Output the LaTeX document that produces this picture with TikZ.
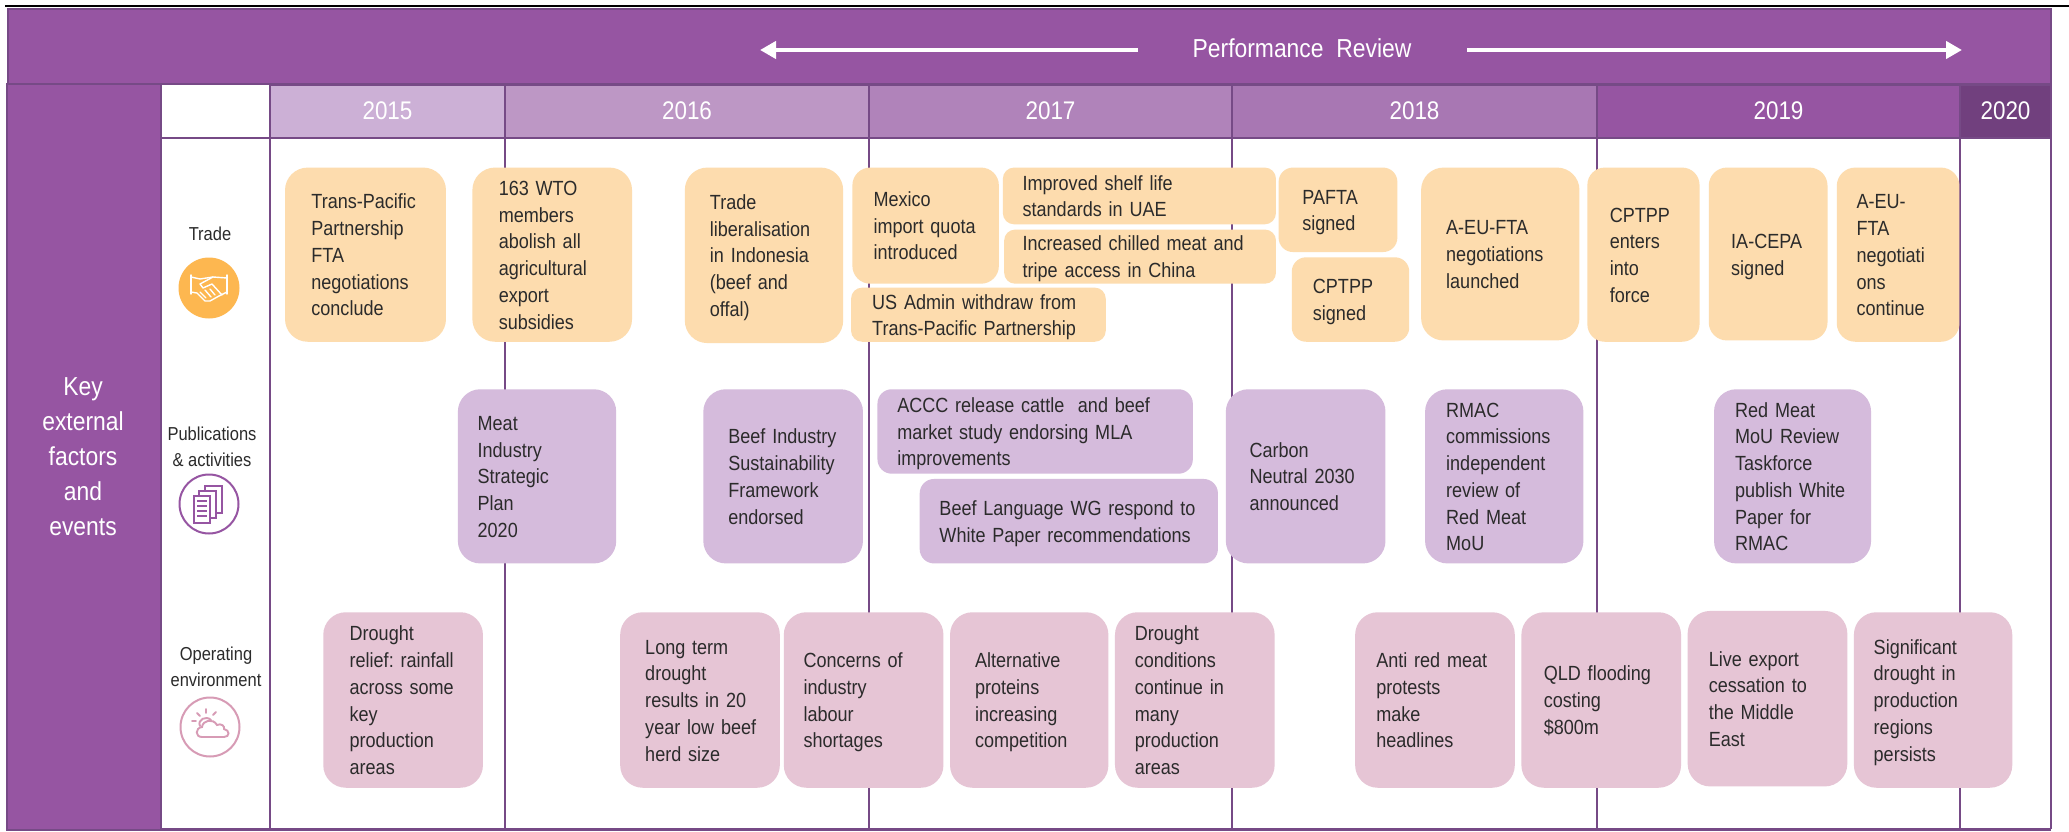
\documentclass[tikz,border=0pt]{standalone}
\usepackage{fontspec}
\setmainfont[FakeStretch=0.88]{Liberation Sans}
\usetikzlibrary{arrows.meta}
\definecolor{ln}{HTML}{764A86}
\definecolor{ban}{HTML}{9655A2}
\definecolor{yA}{HTML}{CCB0D6}
\definecolor{yB}{HTML}{BD97C5}
\definecolor{yC}{HTML}{B083BA}
\definecolor{yD}{HTML}{A877B3}
\definecolor{yE}{HTML}{9655A2}
\definecolor{yF}{HTML}{71407E}
\definecolor{ora}{HTML}{FDDCAE}
\definecolor{pur}{HTML}{D5BBDC}
\definecolor{pin}{HTML}{E6C5D5}
\definecolor{txt}{HTML}{2B2B2B}
\definecolor{icO}{HTML}{FDB750}
\definecolor{icP}{HTML}{9655A2}
\definecolor{icK}{HTML}{D79BB5}
\tikzset{
  x=1pt,y=-1pt,
  grid/.style={draw=ln,line width=2.4pt},
  yearbox/.style={draw=ln,line width=2pt,text=white,font=\fontsize{25.5}{28}\selectfont,inner sep=0pt},
  ev/.style={inner sep=0pt,text=txt,anchor=center,font=\fontsize{20.5}{26.7}\selectfont},
  rowlabel/.style={text=txt,align=center,font=\fontsize{18.75}{25.6}\selectfont,inner sep=0pt},
  wa/.style={draw=white,line width=4pt,-{Triangle[length=16pt,width=17pt]}},
}
% #1 name, #2 fill, #3 x0 #4 y0 #5 x1 #6 y1 (reference shrunk coords) #7 text left x, #8 text
\newcommand{\evb}[8]{%
  \pgfmathsetmacro{\xa}{#3*1.3195}\pgfmathsetmacro{\xb}{#5*1.3195}%
  \pgfmathsetmacro{\ya}{#4*1.3195}\pgfmathsetmacro{\yb}{#6*1.3195}%
  \pgfmathsetmacro{\tx}{#7*1.3195}%
  \pgfmathsetmacro{\cx}{(\xa+\xb)/2}\pgfmathsetmacro{\cy}{(\ya+\yb)/2}%
  \pgfmathsetmacro{\bw}{\xb-\xa}\pgfmathsetmacro{\bh}{\yb-\ya}%
  \pgfmathsetmacro{\pad}{\tx-\xa}\pgfmathsetmacro{\tw}{\bw-\pad}%
  \pgfmathsetmacro{\rr}{5+0.11*min(\bw,\bh)}%
  \node[ev,rounded corners=\rr pt,fill=#2,minimum width=\bw pt,minimum height=\bh pt,text width=\bw pt] (#1) at (\cx,\cy)
    {\leavevmode\hspace*{\pad pt}\raisebox{-7.5pt}[0pt][0pt]{\parbox[c]{\tw pt}{\raggedright\strut #8\strut}}};%
}
\begin{document}
\begin{tikzpicture}
\useasboundingbox (0,0) rectangle (2069,832);
\fill[white] (0,0) rectangle (2069,832);
\coordinate (blA) at (5,6); \coordinate (blB) at (2069,6);
\draw[black,line width=2.2pt] (blA) -- (blB);
% banner
\node[draw=ln,line width=2pt,fill=ban,minimum width=2043pt,minimum height=75pt,inner sep=0pt] (banner) at (1029.5,46.5) {};
\node[text=white,font=\fontsize{26}{28}\selectfont,inner sep=0pt] (review) at (1302,48) {Performance\ \ Review};
\coordinate (aL) at (1138,50); \coordinate (aLe) at (760,50);
\coordinate (aR) at (1467,50); \coordinate (aRe) at (1962,50);
\draw[wa] (aL) -- (aLe);
\draw[wa] (aR) -- (aRe);
% left panel
\node[draw=ln,line width=2pt,fill=ban,minimum width=154pt,minimum height=745pt,inner sep=0pt] (panel) at (84,457) {};
\node[text=white,align=center,inner sep=0pt,font=\fontsize{26}{35}\selectfont] (panelText) at (83,456.5) {Key\\external\\factors\\and\\events};
% grid
\draw[grid] (161,85) -- (161,829);
\draw[grid] (270,85) -- (270,829);
\draw[grid] (505,138) -- (505,829);
\draw[grid] (869,138) -- (869,829);
\draw[grid] (1232,138) -- (1232,829);
\draw[grid] (1597,138) -- (1597,829);
\draw[grid] (1960,138) -- (1960,829);
\draw[grid] (2051,85) -- (2051,829);
\draw[grid] (161,138) -- (2051,138);
\draw[grid] (161,829.5) -- (2051,829.5);
% years
\node[yearbox,fill=yA,minimum width=235pt,minimum height=53pt] (yA) at (387.5,111.5) {\raisebox{1.5pt}{2015}};
\node[yearbox,fill=yB,minimum width=364pt,minimum height=53pt] (yB) at (687,111.5) {\raisebox{1.5pt}{2016}};
\node[yearbox,fill=yC,minimum width=363pt,minimum height=53pt] (yC) at (1050.5,111.5) {\raisebox{1.5pt}{2017}};
\node[yearbox,fill=yD,minimum width=365pt,minimum height=53pt] (yD) at (1414.5,111.5) {\raisebox{1.5pt}{2018}};
\node[yearbox,fill=yE,minimum width=363pt,minimum height=53pt] (yE) at (1778.5,111.5) {\raisebox{1.5pt}{2019}};
\node[yearbox,fill=yF,minimum width=91pt,minimum height=53pt] (yF) at (2005.5,111.5) {\raisebox{1.5pt}{2020}};
% row labels
\node[rowlabel] (lTrade) at (210,234) {Trade};
\node[rowlabel] (lPub) at (212,446.5) {Publications\\\& activities};
\node[rowlabel] (lOp) at (216,667) {Operating\\environment};
% icons
\node[circle,fill=icO,minimum size=61pt,inner sep=0pt] (iT) at (209,288) {};
\begin{scope}[shift={(209,288)},draw=white,line width=1.4pt,line cap=round,line join=round]
  \draw (-18,-13) -- (-18,6) (18,-13) -- (18,6);
  \draw (-18,-11) -- (-9,-9) -- (4,-11) -- (18,-10);
  \draw (-18,4) -- (-12,5) -- (-4,13) -- (1,13) -- (10,8) -- (18,4);
  \draw (4,-11) -- (-9,-4) -- (-6,0) -- (3,-4) -- (13,7);
  \draw (-9,4) -- (-3,10) (-4,2) -- (2,9) (1,1) -- (6,7);
\end{scope}
\node[circle,draw=icP,line width=2pt,minimum size=59pt,inner sep=0pt] (iP) at (209,504) {};
\begin{scope}[shift={(209,504)},draw=icP,line width=1.9pt]
  \draw (-15,-8) rectangle (1,19);
  \draw (-12,-3) -- (-2,-3) (-12,2) -- (-2,2) (-12,7) -- (-2,7) (-12,12) -- (-2,12);
  \draw (-10,-8) -- (-10,-13) -- (7,-13) -- (7,14) -- (1,14);
  \draw (-4,-13) -- (-4,-18) -- (13,-18) -- (13,9) -- (7,9);
\end{scope}
\node[circle,draw=icK,line width=2pt,minimum size=59pt,inner sep=0pt] (iK) at (210,727) {};
\begin{scope}[shift={(210,727)},draw=icK,line width=1.9pt,line cap=round]
  \draw (-8,10) .. controls (-15,10) and (-15,1) .. (-8,0) .. controls (-7,-7) and (3,-9) .. (7,-2) .. controls (11,-4) and (15,-1) .. (14,2) .. controls (20,3) and (20,10) .. (14,10) -- cycle;
  \draw (-10,-1) .. controls (-13,-7) and (-4,-12) .. (1,-7);
  \draw (-4,-18) -- (-4,-14) (-13,-14) -- (-10,-11) (3,-12) -- (6,-15) (-18,-6) -- (-14,-6);
\end{scope}
% trade
\evb{a1}{ora}{216}{127}{338}{259}{236}{Trans-Pacific\\Partnership\\FTA\\negotiations\\conclude}
\evb{a2}{ora}{358}{127}{479}{259}{378}{163 WTO\\members\\abolish all\\agricultural\\export\\subsidies}
\evb{a3}{ora}{519}{127}{639}{260}{538}{Trade\\liberalisation\\in Indonesia\\(beef and\\offal)}
\evb{a4}{ora}{646}{127}{757}{215}{662}{Mexico\\import quota\\introduced}
\evb{a5}{ora}{760}{127}{967}{170}{775}{Improved shelf life\\standards in UAE}
\evb{a6}{ora}{761}{174}{967}{215}{775}{Increased chilled meat and\\tripe access in China}
\evb{a7}{ora}{645}{218}{838}{259}{661}{US Admin withdraw from\\Trans-Pacific Partnership}
\evb{a8}{ora}{969}{127}{1059}{191}{987}{PAFTA\\signed}
\evb{a9}{ora}{979}{195}{1068}{259}{995}{CPTPP\\signed}
\evb{a10}{ora}{1077}{127}{1197}{258}{1096}{A-EU-FTA\\negotiations\\launched}
\evb{a11}{ora}{1203}{127}{1288}{259}{1220}{CPTPP\\enters\\into\\force}
\evb{a12}{ora}{1295}{127}{1385}{258}{1312}{IA-CEPA\\signed}
\evb{a13}{ora}{1392}{127}{1485}{259}{1407}{A-EU-\\FTA\\negotiati\\ons\\continue}
% publications
\evb{b1}{pur}{347}{295}{467}{427}{362}{Meat\\Industry\\Strategic\\Plan\\2020}
\evb{b2}{pur}{533}{295}{654}{427}{552}{Beef Industry\\Sustainability\\Framework\\endorsed}
\evb{b3}{pur}{665}{295}{904}{359}{680}{ACCC release cattle\ \ and beef\\market study endorsing MLA\\improvements}
\evb{b4}{pur}{697}{363}{923}{427}{712}{Beef Language WG respond to\\White Paper recommendations}
\evb{b5}{pur}{929}{295}{1050}{427}{947}{Carbon\\Neutral 2030\\announced}
\evb{b6}{pur}{1080}{295}{1200}{427}{1096}{RMAC\\commissions\\independent\\review of\\Red Meat\\MoU}
\evb{b7}{pur}{1299}{295}{1418}{427}{1315}{Red Meat\\MoU Review\\Taskforce\\publish White\\Paper for\\RMAC}
% operating
\evb{c1}{pin}{245}{464}{366}{597}{265}{Drought\\relief:\ rainfall\\across some\\key\\production\\areas}
\evb{c2}{pin}{470}{464}{591}{597}{489}{Long term\\drought\\results in 20\\year low beef\\herd size}
\evb{c3}{pin}{594}{464}{715}{597}{609}{Concerns of\\industry\\labour\\shortages}
\evb{c4}{pin}{720}{464}{840}{597}{739}{Alternative\\proteins\\increasing\\competition}
\evb{c5}{pin}{845}{464}{966}{597}{860}{Drought\\conditions\\continue in\\many\\production\\areas}
\evb{c6}{pin}{1027}{464}{1148}{597}{1043}{Anti red meat\\protests\\make\\headlines}
\evb{c7}{pin}{1153}{464}{1274}{597}{1170}{QLD flooding\\costing\\\$800m}
\evb{c8}{pin}{1279}{463}{1400}{596}{1295}{Live export\\cessation to\\the Middle\\East}
\evb{c9}{pin}{1405}{464}{1525}{597}{1420}{Significant\\drought in\\production\\regions\\persists}
\end{tikzpicture}
\end{document}
